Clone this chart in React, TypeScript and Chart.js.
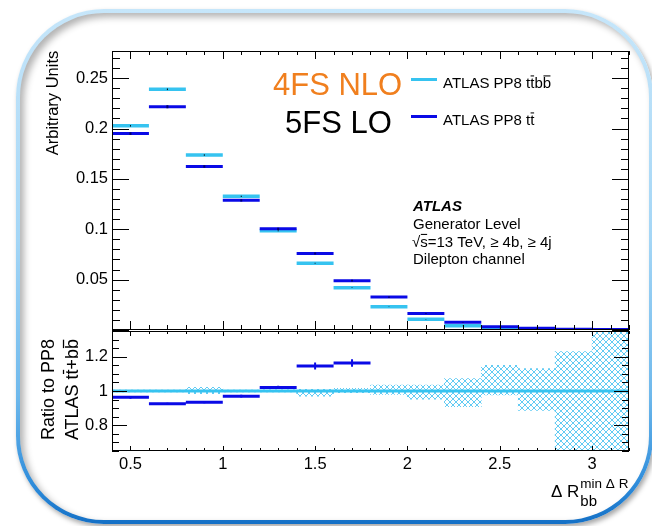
import React, { useEffect, useRef } from 'react';
import { Chart, registerables } from 'chart.js';

Chart.register(...registerables);

const W = 652;
const H = 526;
const FONT = '"Liberation Sans", Arial, Helvetica, sans-serif';
const CYAN = '#36c3f0';
const BLUE = '#0a0ae6';
const ORANGE = '#f07f1e';

// Binning in ΔR_bb (min ΔR pair)
const binEdges = [0.4, 0.6, 0.8, 1.0, 1.2, 1.4, 1.6, 1.8, 2.0, 2.2, 2.4, 2.6, 2.8, 3.0, 3.2];

// Normalised distributions
const ttbbValues = [0.2027, 0.239, 0.1737, 0.1327, 0.0985, 0.0663, 0.042, 0.023, 0.0107, 0.0043, 0.0016, 0.0007, 0.0003, 0.0001];
const ttbbErrors = [0.0007, 0.0008, 0.0007, 0.0006, 0.0005, 0.0004, 0.0003, 0.0002, 0.0002, 0.0001, 0.0001, 0.0001, 0.0001, 0.0001];
const ttValues = [0.195, 0.2217, 0.1623, 0.1287, 0.1005, 0.076, 0.049, 0.0327, 0.0163, 0.0077, 0.0033, 0.0017, 0.0008, 0.0004];
const ttErrors = [0.0014, 0.0015, 0.0013, 0.0012, 0.0011, 0.001, 0.0008, 0.0006, 0.0004, 0.0003, 0.0002, 0.0002, 0.0001, 0.0001];

// Ratio to the tt+bb reference
const ratioValues = [0.963, 0.926, 0.935, 0.97, 1.021, 1.146, 1.163, 1.42, 1.52, 1.79, 2.06, 2.4, 2.7, 4.0];
const ratioErrors = [0.008, 0.006, 0.007, 0.008, 0.01, 0.02, 0.022, 0.03, 0.05, 0.09, 0.15, 0.2, 0.3, 0.6];
const bandLow = [0.995, 0.994, 0.985, 0.995, 0.994, 0.97, 0.99, 0.98, 0.952, 0.909, 0.977, 0.886, 0.6, 0.6];
const bandHigh = [1.005, 1.006, 1.022, 1.006, 1.007, 1.01, 1.016, 1.035, 1.035, 1.073, 1.15, 1.131, 1.23, 1.5];

// Axis ranges and tick steps
const xRange = [0.4, 3.2];
const topRange = [0, 0.277];
const ratioRange = [0.65, 1.35];
const xMajorStep = 0.5;
const xMinorStep = 0.1;
const topMajorStep = 0.05;
const topMinorStep = 0.01;
const ratioMajorStep = 0.2;
const ratioMinorStep = 0.05;

type Pt = { x: number; y: number | null };

function binSegments(values: number[]): Pt[] {
  const pts: Pt[] = [];
  values.forEach((v, i) => {
    pts.push({ x: binEdges[i], y: v }, { x: binEdges[i + 1], y: v }, { x: binEdges[i + 1], y: null });
  });
  return pts;
}

function errorSegments(values: number[], errs: number[]): Pt[] {
  const pts: Pt[] = [];
  values.forEach((v, i) => {
    const c = (binEdges[i] + binEdges[i + 1]) / 2;
    pts.push({ x: c, y: v - errs[i] }, { x: c, y: v + errs[i] }, { x: c, y: null });
  });
  return pts;
}

function tickValues(min: number, max: number, step: number): number[] {
  const out: number[] = [];
  const start = Math.ceil(min / step - 1e-6);
  for (let k = start; k * step <= max + 1e-9; k++) out.push(+(k * step).toFixed(4));
  return out;
}

function fmt(v: number): string {
  return String(+v.toFixed(3));
}

function makeHatch(color: string): CanvasPattern | string {
  const c = document.createElement('canvas');
  c.width = 6;
  c.height = 6;
  const g = c.getContext('2d');
  if (!g) return color;
  g.strokeStyle = color;
  g.lineWidth = 1;
  g.beginPath();
  g.moveTo(0, 0);
  g.lineTo(6, 6);
  g.moveTo(6, 0);
  g.lineTo(0, 6);
  g.stroke();
  return g.createPattern(c, 'repeat') || color;
}

type Piece = { t: string; bar?: boolean };

function piecesWidth(ctx: CanvasRenderingContext2D, pieces: Piece[]): number {
  return pieces.reduce((s, p) => s + ctx.measureText(p.t).width, 0);
}

// Text with ROOT-style overlines on selected pieces, left aligned at x
function drawPieces(ctx: CanvasRenderingContext2D, pieces: Piece[], x: number, y: number, size: number) {
  let cx = x;
  ctx.textAlign = 'left';
  for (const p of pieces) {
    ctx.fillText(p.t, cx, y);
    const w = ctx.measureText(p.t).width;
    if (p.bar) ctx.fillRect(cx + w * 0.08, y - size * 0.84, w * 0.84, Math.max(1, size * 0.07));
    cx += w;
  }
}

type TickSpec = {
  xMajor: number[]; xMinor: number[]; yMajor: number[]; yMinor: number[];
  xMajBottom: number; xMinBottom: number; xMajTop: number; xMinTop: number;
  yMaj: number; yMin: number;
};

function drawFrameAndTicks(chart: Chart, spec: TickSpec) {
  const { ctx, chartArea: a } = chart;
  const xs = chart.scales.x;
  const ys = chart.scales.y;
  ctx.save();
  ctx.strokeStyle = '#000';
  ctx.lineWidth = 1;
  ctx.strokeRect(a.left + 0.5, a.top + 0.5, a.right - a.left - 1, a.bottom - a.top - 1);
  ctx.beginPath();
  const xt = (v: number, lb: number, lt: number) => {
    const px = Math.round(xs.getPixelForValue(v)) + 0.5;
    ctx.moveTo(px, a.bottom); ctx.lineTo(px, a.bottom - lb);
    ctx.moveTo(px, a.top); ctx.lineTo(px, a.top + lt);
  };
  const yt = (v: number, l: number) => {
    const py = Math.round(ys.getPixelForValue(v)) + 0.5;
    ctx.moveTo(a.left, py); ctx.lineTo(a.left + l, py);
    ctx.moveTo(a.right, py); ctx.lineTo(a.right - l, py);
  };
  spec.xMinor.forEach(v => xt(v, spec.xMinBottom, spec.xMinTop));
  spec.xMajor.forEach(v => xt(v, spec.xMajBottom, spec.xMajTop));
  spec.yMinor.forEach(v => yt(v, spec.yMin));
  spec.yMajor.forEach(v => yt(v, spec.yMaj));
  ctx.stroke();
  ctx.restore();
}

const topTexts = {
  id: 'topTexts',
  afterDraw(chart: Chart) {
    drawFrameAndTicks(chart, {
      xMajor: tickValues(xRange[0], xRange[1], xMajorStep),
      xMinor: tickValues(xRange[0], xRange[1], xMinorStep),
      yMajor: tickValues(topRange[0], topRange[1], topMajorStep),
      yMinor: tickValues(topRange[0], topRange[1], topMinorStep),
      xMajBottom: 9, xMinBottom: 5, xMajTop: 8, xMinTop: 4, yMaj: 17, yMin: 8,
    });
    const ctx = chart.ctx;
    ctx.save();
    ctx.fillStyle = '#000';
    ctx.textBaseline = 'alphabetic';

    // y-axis title
    ctx.save();
    ctx.translate(57.5, 103);
    ctx.rotate(-Math.PI / 2);
    ctx.font = `16.5px ${FONT}`;
    ctx.textAlign = 'center';
    ctx.fillText('Arbitrary Units', 0, 0);
    ctx.restore();

    // scheme labels
    ctx.font = `31px ${FONT}`;
    ctx.textAlign = 'left';
    ctx.fillStyle = ORANGE;
    ctx.fillText('4FS NLO', 273, 94.5);
    ctx.fillStyle = '#000';
    ctx.fillText('5FS LO', 285, 133);

    // legend
    ctx.lineWidth = 3;
    ctx.strokeStyle = CYAN;
    ctx.beginPath(); ctx.moveTo(411, 79.5); ctx.lineTo(437, 79.5); ctx.stroke();
    ctx.strokeStyle = BLUE;
    ctx.beginPath(); ctx.moveTo(411, 116.5); ctx.lineTo(437, 116.5); ctx.stroke();
    ctx.font = `15px ${FONT}`;
    drawPieces(ctx, [{ t: 'ATLAS PP8 t' }, { t: 't', bar: true }, { t: 'b' }, { t: 'b', bar: true }], 443, 88, 15);
    drawPieces(ctx, [{ t: 'ATLAS PP8 t' }, { t: 't', bar: true }], 443, 125, 15);

    // experiment label block
    ctx.font = `italic bold 15px ${FONT}`;
    ctx.fillText('ATLAS', 413, 210.5);
    ctx.font = `15px ${FONT}`;
    ctx.fillText('Generator Level', 413, 228.5);
    drawPieces(ctx, [{ t: '√' }, { t: 's', bar: true }, { t: '=13 TeV, ≥ 4b, ≥ 4j' }], 412, 246.5, 15);
    ctx.fillText('Dilepton channel', 413, 264);
    ctx.restore();
  },
};

const bottomTexts = {
  id: 'bottomTexts',
  afterDraw(chart: Chart) {
    drawFrameAndTicks(chart, {
      xMajor: tickValues(xRange[0], xRange[1], xMajorStep),
      xMinor: tickValues(xRange[0], xRange[1], xMinorStep),
      yMajor: tickValues(ratioRange[0], ratioRange[1], ratioMajorStep),
      yMinor: tickValues(ratioRange[0], ratioRange[1], ratioMinorStep),
      xMajBottom: 5, xMinBottom: 3, xMajTop: 5, xMinTop: 3, yMaj: 15, yMin: 7,
    });
    const ctx = chart.ctx;
    ctx.save();
    ctx.fillStyle = '#000';
    ctx.textBaseline = 'alphabetic';

    // y-axis title, two lines
    ctx.font = `18px ${FONT}`;
    ctx.save();
    ctx.translate(53.5, 389.5);
    ctx.rotate(-Math.PI / 2);
    ctx.textAlign = 'center';
    ctx.fillText('Ratio to PP8', 0, 0);
    ctx.restore();
    ctx.save();
    ctx.translate(78, 389.5);
    ctx.rotate(-Math.PI / 2);
    const line2: Piece[] = [{ t: 'ATLAS t' }, { t: 't', bar: true }, { t: '+b' }, { t: 'b', bar: true }];
    drawPieces(ctx, line2, -piecesWidth(ctx, line2) / 2, 0, 18);
    ctx.restore();

    // x-axis title
    ctx.textAlign = 'left';
    ctx.font = `17px ${FONT}`;
    ctx.fillText('Δ R', 551, 497);
    const w = ctx.measureText('Δ R').width;
    ctx.font = `13.5px ${FONT}`;
    ctx.fillText('min Δ R', 551 + w + 1, 488);
    ctx.font = `15px ${FONT}`;
    ctx.fillText('bb', 551 + w + 1, 505.5);
    ctx.restore();
  },
};

const tickFont = { family: FONT, size: 16.5 };

export default function App() {
  const topRef = useRef<HTMLCanvasElement>(null);
  const botRef = useRef<HTMLCanvasElement>(null);

  useEffect(() => {
    if (!topRef.current || !botRef.current) return;

    const top = new Chart(topRef.current, {
      type: 'line',
      data: {
        datasets: [
          { data: errorSegments(ttbbValues, ttbbErrors), borderColor: '#000', borderWidth: 1, pointRadius: 0, order: 1, clip: 0 } as any,
          { data: errorSegments(ttValues, ttErrors), borderColor: '#000070', borderWidth: 2, pointRadius: 0, order: 2, clip: 0 } as any,
          { data: binSegments(ttValues), borderColor: BLUE, borderWidth: 3, pointRadius: 0, order: 3, clip: 0 } as any,
          { data: binSegments(ttbbValues), borderColor: CYAN, borderWidth: 3.5, pointRadius: 0, order: 4, clip: 0 } as any,
        ],
      },
      options: {
        responsive: false,
        animation: false,
        events: [],
        layout: { padding: { left: 0, right: 23, top: 51, bottom: 196 } },
        plugins: { legend: { display: false }, tooltip: { enabled: false } },
        scales: {
          x: { type: 'linear', min: xRange[0], max: xRange[1], offset: false, display: false },
          y: {
            type: 'linear', min: topRange[0], max: topRange[1],
            grid: { display: false, drawTicks: false }, border: { display: false },
            ticks: {
              stepSize: topMajorStep, includeBounds: false, padding: 4, color: '#000', font: tickFont,
              callback: (v: any) => (Number(v) === 0 ? '' : fmt(Number(v))),
            },
            afterFit: (s: any) => { s.width = 112; },
          },
        },
      } as any,
      plugins: [topTexts],
    });

    const bandCenters = binEdges.slice(0, -1).map((e, i) => (e + binEdges[i + 1]) / 2);
    const bot = new Chart(botRef.current, {
      type: 'line',
      data: {
        datasets: [
          { data: errorSegments(ratioValues, ratioErrors), borderColor: BLUE, borderWidth: 2, pointRadius: 0, order: 1, clip: 0 } as any,
          { data: binSegments(ratioValues), borderColor: BLUE, borderWidth: 3, pointRadius: 0, order: 2, clip: 0 } as any,
          { data: [{ x: xRange[0], y: 1 }, { x: xRange[1], y: 1 }], borderColor: CYAN, borderWidth: 3, pointRadius: 0, order: 3, clip: 0 } as any,
          {
            type: 'bar',
            data: bandCenters.map((c, i) => ({ x: c, y: [bandLow[i], bandHigh[i]] })),
            backgroundColor: makeHatch('#62cbf3'),
            borderWidth: 0,
            barPercentage: 1,
            categoryPercentage: 1,
            order: 4,
            clip: 0,
          } as any,
        ],
      },
      options: {
        responsive: false,
        animation: false,
        events: [],
        layout: { padding: { left: 0, right: 23, top: 331, bottom: 55 } },
        plugins: { legend: { display: false }, tooltip: { enabled: false } },
        scales: {
          x: {
            type: 'linear', min: xRange[0], max: xRange[1], offset: false,
            grid: { display: false, drawTicks: false, offset: false }, border: { display: false },
            ticks: { stepSize: xMajorStep, includeBounds: false, padding: 4, color: '#000', font: tickFont, maxRotation: 0, callback: (v: any) => fmt(Number(v)) },
            afterFit: (s: any) => { s.height = 20; },
          },
          y: {
            type: 'linear', min: ratioRange[0], max: ratioRange[1],
            grid: { display: false, drawTicks: false }, border: { display: false },
            ticks: { stepSize: ratioMajorStep, includeBounds: false, padding: 4, color: '#000', font: tickFont, callback: (v: any) => fmt(Number(v)) },
            afterFit: (s: any) => { s.width = 112; },
          },
        },
      } as any,
      plugins: [bottomTexts],
    });

    return () => {
      top.destroy();
      bot.destroy();
    };
  }, []);

  return (
    <div style={{ position: 'absolute', left: 0, top: 0, width: W, height: H, overflow: 'hidden', background: '#fff' }}>
      <div
        style={{
          position: 'absolute', left: 16, top: 9, width: 637, height: 515, borderRadius: 88,
          background: 'linear-gradient(180deg, #c6e6fa 0%, #a4d6f6 45%, #6fb9ec 75%, #2f8ddb 92%, #1470c6 100%)',
          boxShadow: '2px 3px 5px rgba(0,0,0,0.35)',
        }}
      >
        <div
          style={{
            position: 'absolute', left: 4, top: 4, right: 4, bottom: 4, borderRadius: 84,
            background: '#fff', boxShadow: 'inset 4px 4px 7px rgba(0,0,0,0.3)',
          }}
        />
      </div>
      <canvas ref={topRef} width={W} height={H} style={{ position: 'absolute', left: 0, top: 0 }} />
      <canvas ref={botRef} width={W} height={H} style={{ position: 'absolute', left: 0, top: 0 }} />
    </div>
  );
}
